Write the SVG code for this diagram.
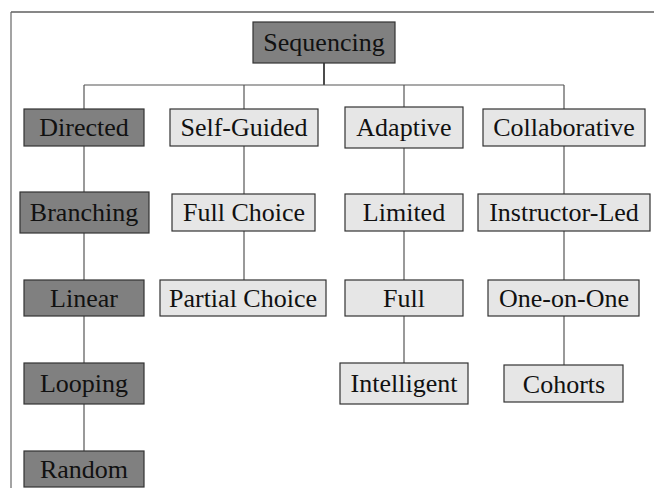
<svg xmlns="http://www.w3.org/2000/svg" width="654" height="488" viewBox="0 0 654 488">
<style>
.dark{fill:#808080;stroke:#333;stroke-width:1.2}
.light{fill:#e6e6e6;stroke:#333;stroke-width:1.2}
.lbl{font-family:'Liberation Serif','Times New Roman',serif;font-size:26px;fill:#111;text-anchor:middle}
</style>
<rect width="654" height="488" fill="#fff"/>
<g id="frame">
<line x1="11" y1="12" x2="654" y2="12" stroke="#111" stroke-width="1.2"/>
<line x1="11" y1="12" x2="11" y2="488" stroke="#666" stroke-width="1.2"/>
</g>
<g id="connectors" stroke="#555" stroke-width="1.2">
<line x1="324" y1="63" x2="324" y2="85" stroke="#111" stroke-width="1.5"/>
<line x1="84" y1="85" x2="564" y2="85"/>
<line x1="84" y1="85" x2="84" y2="109"/>
<line x1="244" y1="85" x2="244" y2="109"/>
<line x1="404" y1="85" x2="404" y2="107"/>
<line x1="564" y1="85" x2="564" y2="109"/>
<line x1="84" y1="146" x2="84" y2="192"/>
<line x1="84" y1="233" x2="84" y2="280"/>
<line x1="84" y1="316" x2="84" y2="363"/>
<line x1="84" y1="404" x2="84" y2="451"/>
<line x1="244" y1="146" x2="244" y2="194"/>
<line x1="244" y1="231" x2="244" y2="280"/>
<line x1="404" y1="148" x2="404" y2="194"/>
<line x1="404" y1="231" x2="404" y2="280"/>
<line x1="404" y1="316" x2="404" y2="363"/>
<line x1="564" y1="146" x2="564" y2="194"/>
<line x1="564" y1="231" x2="564" y2="280"/>
<line x1="564" y1="316" x2="564" y2="365"/>
</g>
<g id="sequencing"><rect class="dark" x="253" y="22" width="142" height="41"/><text class="lbl" x="324" y="51" font-family="'Liberation Serif', serif">Sequencing</text></g>
<g id="directed"><rect class="dark" x="24" y="109" width="120" height="37"/><text class="lbl" x="84" y="136" font-family="'Liberation Serif', serif">Directed</text></g>
<g id="branching"><rect class="dark" x="20" y="192" width="129" height="41"/><text class="lbl" x="84" y="221" font-family="'Liberation Serif', serif">Branching</text></g>
<g id="linear"><rect class="dark" x="24" y="280" width="120" height="36"/><text class="lbl" x="84" y="307" font-family="'Liberation Serif', serif">Linear</text></g>
<g id="looping"><rect class="dark" x="24" y="363" width="120" height="41"/><text class="lbl" x="84" y="392" font-family="'Liberation Serif', serif">Looping</text></g>
<g id="random"><rect class="dark" x="24" y="451" width="120" height="36"/><text class="lbl" x="84" y="478" font-family="'Liberation Serif', serif">Random</text></g>
<g id="selfguided"><rect class="light" x="170" y="109" width="148" height="37"/><text class="lbl" x="244" y="136" font-family="'Liberation Serif', serif">Self-Guided</text></g>
<g id="fullchoice"><rect class="light" x="172" y="194" width="143" height="37"/><text class="lbl" x="244" y="221" font-family="'Liberation Serif', serif">Full Choice</text></g>
<g id="partialchoice"><rect class="light" x="160" y="280" width="166" height="36"/><text class="lbl" x="243" y="307" font-family="'Liberation Serif', serif">Partial Choice</text></g>
<g id="adaptive"><rect class="light" x="345" y="107" width="118" height="41"/><text class="lbl" x="404" y="136" font-family="'Liberation Serif', serif">Adaptive</text></g>
<g id="limited"><rect class="light" x="345" y="194" width="118" height="37"/><text class="lbl" x="404" y="221" font-family="'Liberation Serif', serif">Limited</text></g>
<g id="full"><rect class="light" x="345" y="280" width="118" height="36"/><text class="lbl" x="404" y="307" font-family="'Liberation Serif', serif">Full</text></g>
<g id="intelligent"><rect class="light" x="340" y="363" width="128" height="41"/><text class="lbl" x="404" y="392" font-family="'Liberation Serif', serif">Intelligent</text></g>
<g id="collaborative"><rect class="light" x="483" y="109" width="162" height="37"/><text class="lbl" x="564" y="136" font-family="'Liberation Serif', serif">Collaborative</text></g>
<g id="instructorled"><rect class="light" x="478" y="194" width="172" height="37"/><text class="lbl" x="564" y="221" font-family="'Liberation Serif', serif">Instructor-Led</text></g>
<g id="oneonone"><rect class="light" x="488" y="280" width="151" height="36"/><text class="lbl" x="564" y="307" font-family="'Liberation Serif', serif">One-on-One</text></g>
<g id="cohorts"><rect class="light" x="504" y="365" width="119" height="37"/><text class="lbl" x="564" y="393" font-family="'Liberation Serif', serif">Cohorts</text></g>
</svg>
